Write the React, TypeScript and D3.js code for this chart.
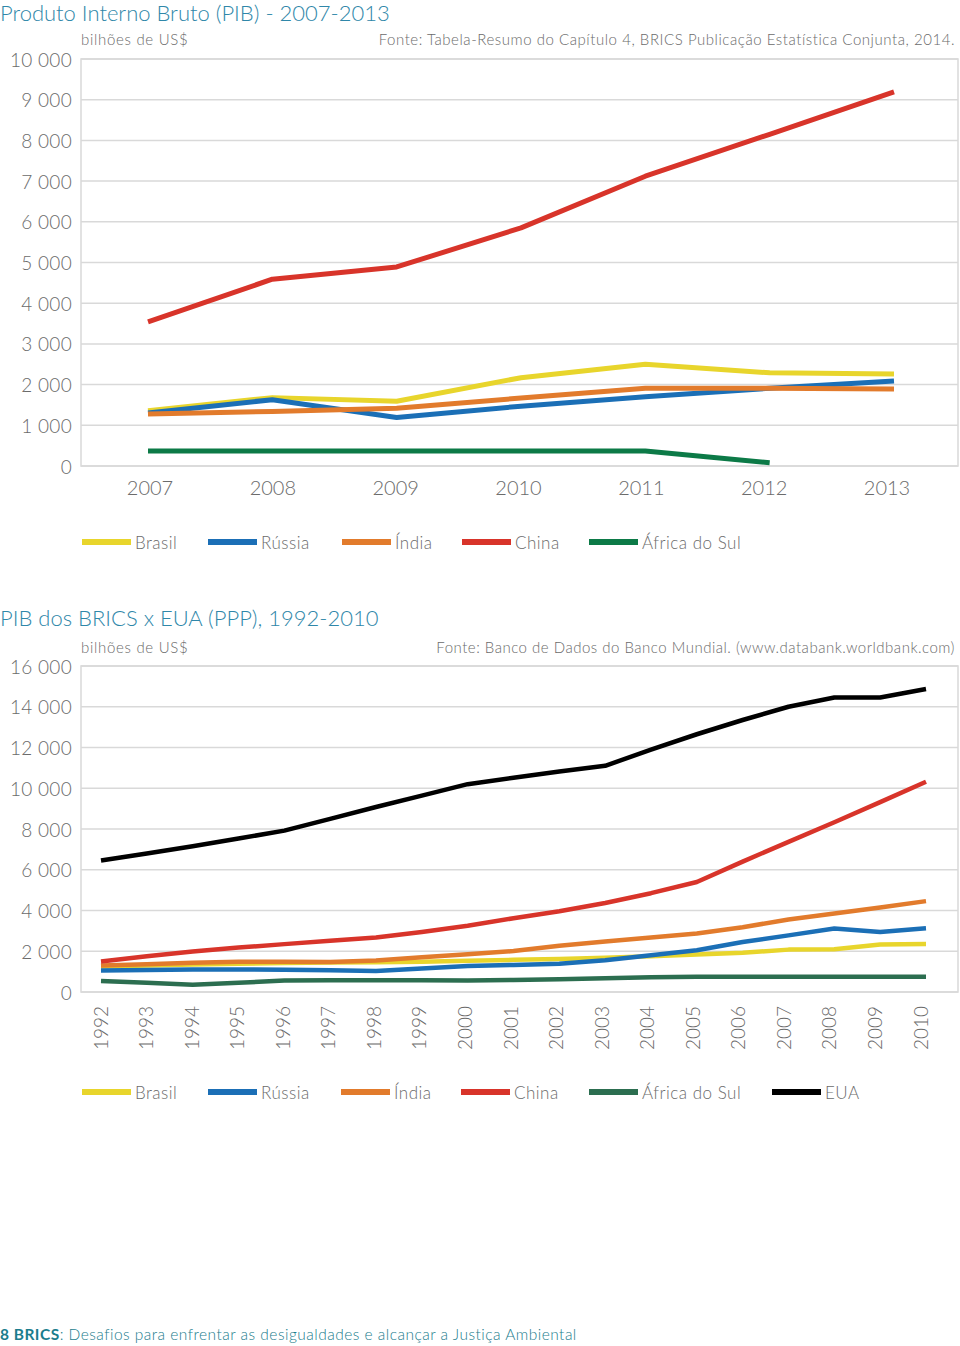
import React from "react";
import * as d3 from "d3";

// ---------- Chart 1 data ----------
const years1 = ["2007", "2008", "2009", "2010", "2011", "2012", "2013"];
const brasil1 = [1360, 1680, 1590, 2170, 2500, 2290, 2260];
const russia1 = [1300, 1630, 1190, 1470, 1700, 1910, 2090];
const india1 = [1280, 1340, 1420, 1670, 1910, 1910, 1890];
const china1 = [3540, 4590, 4890, 5850, 7120, 8150, 9190];
const africa1: (number | null)[] = [370, 370, 370, 370, 370, 80, null];
const yTicks1 = [0, 1000, 2000, 3000, 4000, 5000, 6000, 7000, 8000, 9000, 10000];

// ---------- Chart 2 data ----------
const years2 = [
  "1992", "1993", "1994", "1995", "1996", "1997", "1998", "1999", "2000", "2001",
  "2002", "2003", "2004", "2005", "2006", "2007", "2008", "2009", "2010",
];
const brasil2 = [1250, 1300, 1350, 1390, 1420, 1450, 1460, 1480, 1530, 1580, 1620, 1680, 1760, 1840, 1930, 2080, 2100, 2330, 2350];
const russia2 = [1050, 1080, 1100, 1110, 1090, 1070, 1030, 1150, 1280, 1330, 1390, 1560, 1800, 2050, 2450, 2780, 3120, 2950, 3130];
const india2 = [1300, 1360, 1430, 1480, 1480, 1470, 1550, 1700, 1850, 2010, 2270, 2480, 2680, 2870, 3180, 3560, 3850, 4150, 4460];
const china2 = [1500, 1750, 1990, 2180, 2350, 2520, 2680, 2950, 3250, 3620, 3960, 4370, 4850, 5400, 6400, 7370, 8330, 9320, 10320];
const africa2 = [540, 450, 350, 450, 560, 580, 580, 580, 570, 590, 620, 670, 720, 750, 750, 750, 750, 750, 750];
const eua2 = [6450, 6800, 7150, 7530, 7920, 8500, 9080, 9640, 10200, 10520, 10820, 11100, 11900, 12650, 13350, 14000, 14450, 14450, 14870];
const yTicks2 = [0, 2000, 4000, 6000, 8000, 10000, 12000, 14000, 16000];

const COLORS = {
  brasil: "#e8d52c",
  russia: "#1b6fb6",
  india: "#e27b2c",
  china: "#d8342a",
  africa: "#0c7a47",
  africa2: "#2c6e50",
  eua: "#000000",
};

const FONT = "Lato, 'Open Sans', sans-serif";
const TXT = "#6b6b6b";
const TITLE = "#2f87a9";
const GRID = "#d9d9d9";

const locale = d3.formatLocale({ thousands: " ", grouping: [3], decimal: ",", currency: ["", ""] });
const fmt = locale.format(",");

type Series = { name: string; values: (number | null)[]; color: string };

function LineChart(props: {
  top: number;
  bottom: number;
  left: number;
  right: number;
  x0: number;
  x1: number;
  lx0: number;
  lx1: number;
  yMax: number;
  ticks: number[];
  cats: string[];
  series: Series[];
  width: number;
  rotateLabels: boolean;
}) {
  const { top, bottom, left, right, x0, x1, lx0, lx1, yMax, ticks, cats, series, width, rotateLabels } = props;
  const y = d3.scaleLinear().domain([0, yMax]).range([bottom, top]);
  const x = d3.scalePoint<string>().domain(cats).range([x0, x1]);
  const xl = d3.scalePoint<string>().domain(cats).range([lx0, lx1]);
  const line = d3
    .line<number | null>()
    .defined((d) => d != null)
    .x((_, i) => x(cats[i]) as number)
    .y((d) => y(d as number));
  return (
    <g>
      {ticks.map((t) => (
        <g key={t}>
          <line x1={left} x2={right} y1={y(t)} y2={y(t)} stroke={GRID} strokeWidth={1.5} />
          <text
            x={72}
            y={y(t)}
            textAnchor="end"
            dominantBaseline="central"
            fontSize={19}
            letterSpacing={0.3}
            fill={TXT}
            fontFamily={FONT}
            fontWeight={300}
          >
            {fmt(t)}
          </text>
        </g>
      ))}
      <rect x={left} y={top} width={right - left} height={bottom - top} fill="none" stroke={GRID} strokeWidth={1.5} />
      {series.map((s) => (
        <path
          key={s.name}
          d={line(s.values) || ""}
          fill="none"
          stroke={s.color}
          strokeWidth={width}
          strokeLinejoin="round"
        />
      ))}
      {cats.map((c) =>
        rotateLabels ? (
          <text
            key={c}
            transform={`translate(${(xl(c) as number) - 1},${bottom + 14}) rotate(-90)`}
            textAnchor="end"
            dominantBaseline="central"
            fontSize={19}
            fill={TXT}
            fontFamily={FONT}
            fontWeight={300}
          >
            {c}
          </text>
        ) : (
          <text
            key={c}
            x={xl(c) as number}
            y={bottom + 21}
            textAnchor="middle"
            dominantBaseline="central"
            fontSize={20}
            fill={TXT}
            fontFamily={FONT}
            fontWeight={300}
          >
            {c}
          </text>
        )
      )}
    </g>
  );
}

function Legend(props: { y: number; items: { name: string; color: string; x: number }[] }) {
  return (
    <g>
      {props.items.map((it) => (
        <g key={it.name}>
          <rect x={it.x} y={props.y - 3} width={49} height={6} fill={it.color} />
          <text
            x={it.x + 53}
            y={props.y}
            dominantBaseline="central"
            fontSize={17}
            letterSpacing={0.5}
            fill={TXT}
            fontFamily={FONT}
            fontWeight={300}
          >
            {it.name}
          </text>
        </g>
      ))}
    </g>
  );
}

export default function App() {
  const s1: Series[] = [
    { name: "Brasil", values: brasil1, color: COLORS.brasil },
    { name: "Rússia", values: russia1, color: COLORS.russia },
    { name: "Índia", values: india1, color: COLORS.india },
    { name: "China", values: china1, color: COLORS.china },
    { name: "África do Sul", values: africa1, color: COLORS.africa },
  ];
  const s2: Series[] = [
    { name: "Brasil", values: brasil2, color: COLORS.brasil },
    { name: "Rússia", values: russia2, color: COLORS.russia },
    { name: "Índia", values: india2, color: COLORS.india },
    { name: "China", values: china2, color: COLORS.china },
    { name: "África do Sul", values: africa2, color: COLORS.africa2 },
    { name: "EUA", values: eua2, color: COLORS.eua },
  ];
  return (
    <svg
      width={960}
      height={1346}
      style={{ position: "absolute", left: 0, top: 0, background: "#fff" }}
      fontFamily={FONT}
    >
      <rect width={960} height={1346} fill="#fff" />
      {/* Chart 1 */}
      <text x={0} y={12} dominantBaseline="central" fontSize={22} fill={TITLE} fontFamily={FONT} fontWeight={300}>
        Produto Interno Bruto (PIB) - 2007-2013
      </text>
      <text x={81} y={39} dominantBaseline="central" fontSize={15} letterSpacing={0.7} fill={TXT} fontFamily={FONT} fontWeight={300}>
        bilhões de US$
      </text>
      <text x={955} y={39} textAnchor="end" dominantBaseline="central" fontSize={15} letterSpacing={0.55} fill={TXT} fontFamily={FONT} fontWeight={300}>
        Fonte: Tabela-Resumo do Capítulo 4, BRICS Publicação Estatística Conjunta, 2014.
      </text>
      <LineChart
        top={59}
        bottom={466}
        left={81}
        right={958}
        x0={148}
        x1={894}
        lx0={150}
        lx1={887}
        yMax={10000}
        ticks={yTicks1}
        cats={years1}
        series={s1}
        width={5}
        rotateLabels={false}
      />
      <Legend
        y={542}
        items={[
          { name: "Brasil", color: COLORS.brasil, x: 82 },
          { name: "Rússia", color: COLORS.russia, x: 208 },
          { name: "Índia", color: COLORS.india, x: 342 },
          { name: "China", color: COLORS.china, x: 462 },
          { name: "África do Sul", color: COLORS.africa, x: 589 },
        ]}
      />
      {/* Chart 2 */}
      <text x={0} y={617} dominantBaseline="central" fontSize={22} fill={TITLE} fontFamily={FONT} fontWeight={300}>
        PIB dos BRICS x EUA (PPP), 1992-2010
      </text>
      <text x={81} y={647} dominantBaseline="central" fontSize={15} letterSpacing={0.7} fill={TXT} fontFamily={FONT} fontWeight={300}>
        bilhões de US$
      </text>
      <text x={955} y={647} textAnchor="end" dominantBaseline="central" fontSize={15} letterSpacing={0.5} fill={TXT} fontFamily={FONT} fontWeight={300}>
        Fonte: Banco de Dados do Banco Mundial. (www.databank.worldbank.com)
      </text>
      <LineChart
        top={666}
        bottom={992}
        left={81}
        right={958}
        x0={101}
        x1={926}
        lx0={101}
        lx1={921}
        yMax={16000}
        ticks={yTicks2}
        cats={years2}
        series={s2}
        width={4.5}
        rotateLabels={true}
      />
      <Legend
        y={1092}
        items={[
          { name: "Brasil", color: COLORS.brasil, x: 82 },
          { name: "Rússia", color: COLORS.russia, x: 208 },
          { name: "Índia", color: COLORS.india, x: 341 },
          { name: "China", color: COLORS.china, x: 461 },
          { name: "África do Sul", color: COLORS.africa2, x: 589 },
          { name: "EUA", color: COLORS.eua, x: 772 },
        ]}
      />
      {/* Footer */}
      <text x={0} y={1334} dominantBaseline="central" fontSize={15.5} letterSpacing={0.48} fill="#1b7d8d" fontFamily={FONT}>
        <tspan fontWeight={700}>8 BRICS</tspan>
        <tspan fontWeight={300}>: Desafios para enfrentar as desigualdades e alcançar a Justiça Ambiental</tspan>
      </text>
    </svg>
  );
}
